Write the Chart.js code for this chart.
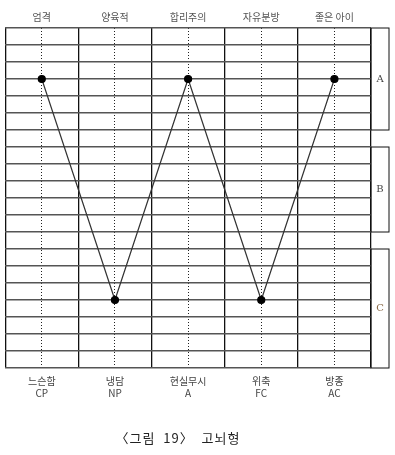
<!DOCTYPE html>
<html>
<head>
<meta charset="utf-8">
<script src="https://cdn.jsdelivr.net/npm/chart.js@4"></script>
<style>
  body { margin: 0; background: #fff; }
  #wrap { position: relative; width: 395px; height: 455px; }
  #caption {
    position: absolute; left: 0; top: 428px; width: 356px; text-align: center;
    font-family: "Noto Sans CJK KR", sans-serif; font-size: 13px; color: #222;
    letter-spacing: 1px; white-space: pre;
  }
</style>
</head>
<body>
<div id="wrap">
  <canvas id="grafico"></canvas>
  <div id="caption">〈그림  19〉  고뇌형</div>
</div>
<script>
const etiquetasArriba = ["엄격", "양육적", "합리주의", "자유분방", "좋은 아이"];
const etiquetasAbajo = ["느슨함", "냉담", "현실무시", "위축", "방종"];
const codigos = ["CP", "NP", "A", "FC", "AC"];
const valores = [17, 4, 17, 4, 17];
const grupos = ["A", "B", "C"];
const rangosGrupo = [[20, 14], [13, 8], [7, 0]];

const corchetes = {
  id: "corchetes",
  afterDraw(chart) {
    const ctx = chart.ctx;
    const area = chart.chartArea;
    const y = chart.scales.y;
    ctx.save();
    ctx.strokeStyle = "#111";
    ctx.lineWidth = 1;
    ctx.font = "10px 'DejaVu Serif', serif";
    ctx.textAlign = "center";
    ctx.textBaseline = "middle";
    grupos.forEach(function (g, i) {
      const y1 = y.getPixelForValue(rangosGrupo[i][0]);
      const y2 = y.getPixelForValue(rangosGrupo[i][1]);
      ctx.strokeRect(area.right, y1, 18, y2 - y1);
      ctx.fillStyle = g === "C" ? "#8a6a48" : "#444";
      ctx.fillText(g, area.right + 9, (y1 + y2) / 2);
    });
    ctx.restore();
  }
};

const ctx = document.getElementById("grafico").getContext("2d");
new Chart(ctx, {
  type: "line",
  data: {
    labels: etiquetasAbajo.map((e, i) => [e, codigos[i]]),
    datasets: [{
      data: valores,
      borderColor: "#333",
      borderWidth: 1.2,
      pointRadius: 3.5,
      pointBackgroundColor: "#000",
      pointBorderColor: "#000",
      tension: 0
    }]
  },
  options: {
    responsive: true,
    maintainAspectRatio: false,
    animation: false,
    layout: { padding: { left: 3, right: 24, top: 0, bottom: 0 } },
    plugins: { legend: { display: false }, tooltip: { enabled: false } },
    scales: {
      x: {
        type: "category",
        position: "bottom",
        offset: true,
        grid: { offset: true, color: "#111", lineWidth: 1.3, drawTicks: false },
        border: { display: false },
        ticks: {
          padding: 7,
          color: "#444",
          font: { size: 10, family: "'Noto Sans CJK KR', sans-serif" }
        },
        afterFit(a) { a.height = 87; }
      },
      x2: {
        type: "category",
        position: "top",
        labels: etiquetasArriba,
        offset: true,
        grid: { offset: false, color: "#222", lineWidth: 1, drawTicks: false },
        border: { display: false, dash: [1, 2] },
        ticks: {
          padding: 5,
          color: "#555",
          font: { size: 10, family: "'Noto Sans CJK KR', sans-serif" }
        },
        afterFit(a) { a.height = 28; }
      },
      y: {
        min: 0,
        max: 20,
        ticks: { display: false, stepSize: 1 },
        grid: { color: "#555", lineWidth: 1.5, drawTicks: false },
        border: { display: false },
        afterFit(a) { a.width = 0; }
      }
    }
  },
  plugins: [corchetes]
});
</script>
</body>
</html>
